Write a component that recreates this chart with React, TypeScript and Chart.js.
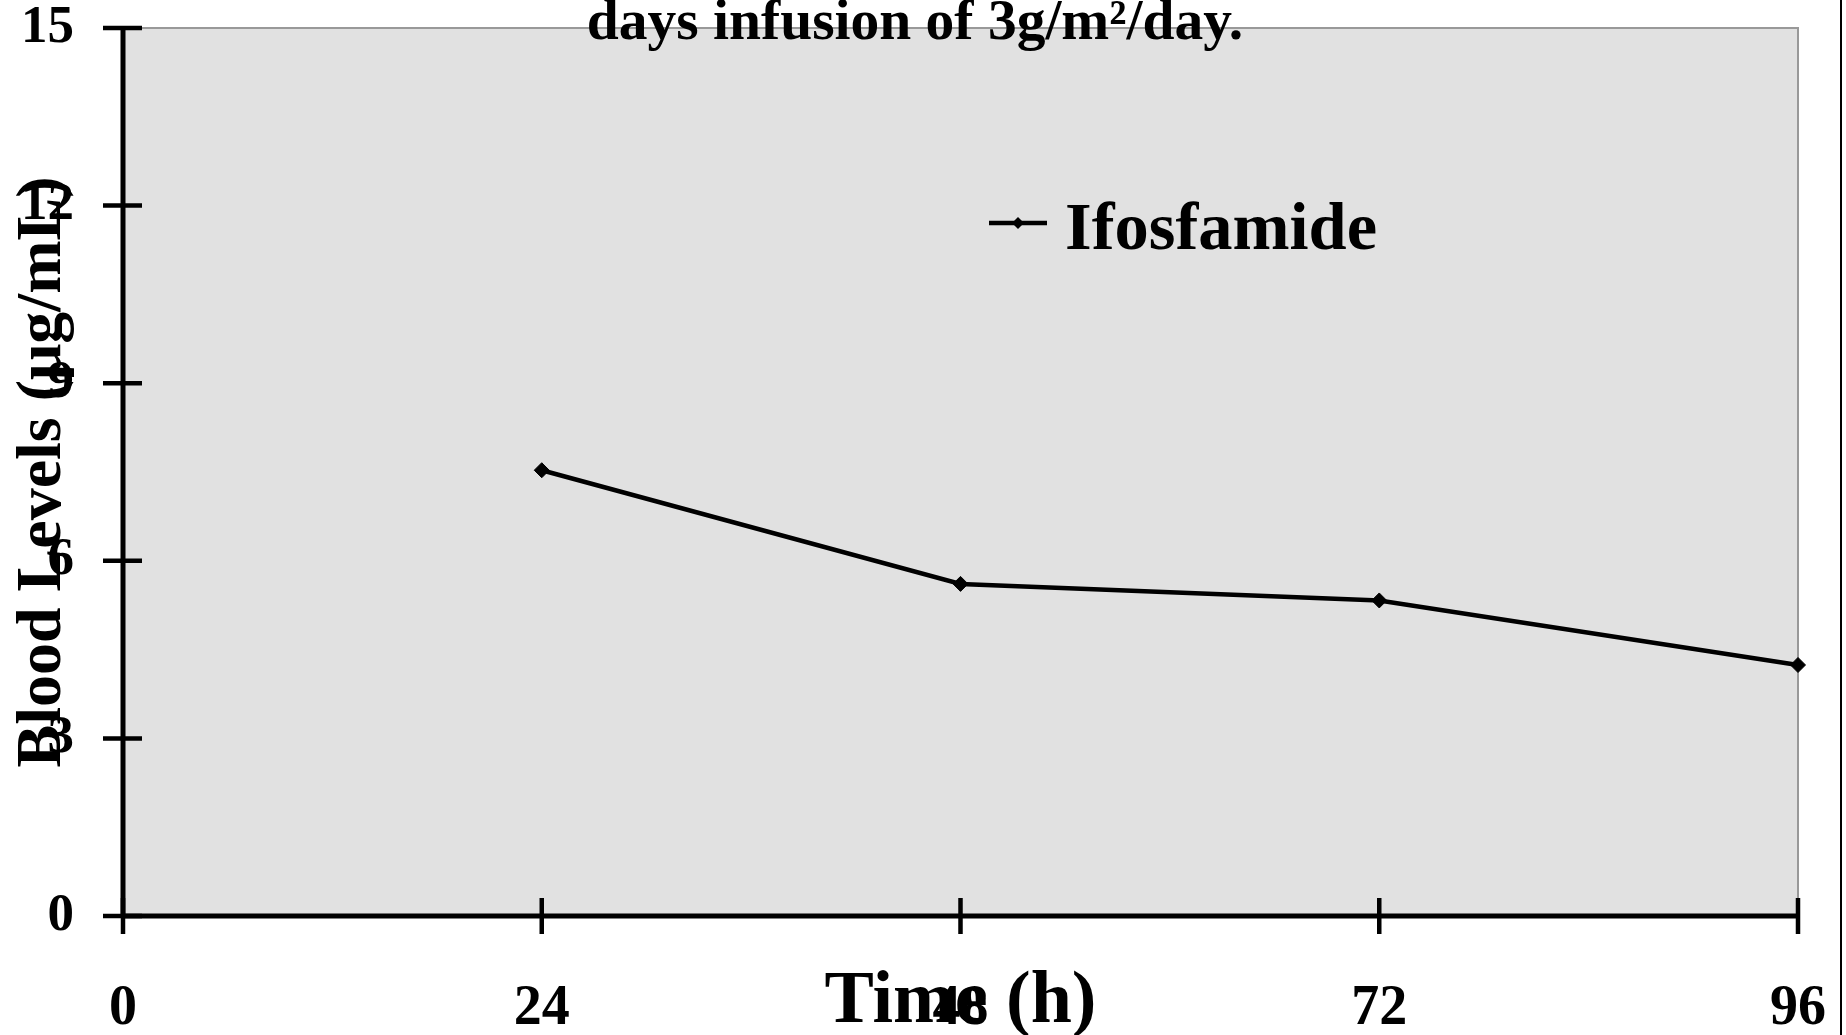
import React, { useEffect, useRef } from "react";
import { Chart, registerables } from "chart.js";

Chart.register(...registerables);

// ---- Data ----
const timeHours = [24, 48, 72, 96];
const ifosfamideLevels = [7.53, 5.61, 5.33, 4.24];
const seriesLabel = "Ifosfamide";
const xTickValues = [0, 24, 48, 72, 96];
const yTickValues = [0, 3, 6, 9, 12, 15];
const titleText = "days infusion of 3g/m\u00B2/day.";
const xAxisTitle = "Time (h)";
const yAxisTitle = "Blood Levels (\u03BCg/mL)";

const FONT = "'Liberation Serif', 'Times New Roman', serif";

const decorPlugin = {
  id: "decor",
  beforeDraw(chart: any) {
    const { ctx, chartArea: a } = chart;
    ctx.save();
    ctx.fillStyle = "#ffffff";
    ctx.fillRect(0, 0, chart.width, chart.height);
    ctx.fillStyle = "#e1e1e1";
    ctx.fillRect(a.left, a.top, a.right - a.left, a.bottom - a.top);
    ctx.strokeStyle = "#999999";
    ctx.lineWidth = 2;
    ctx.beginPath();
    ctx.moveTo(a.left, a.top);
    ctx.lineTo(a.right, a.top);
    ctx.lineTo(a.right, a.bottom);
    ctx.stroke();
    ctx.restore();
  },
  beforeDatasetsDraw(chart: any) {
    const { ctx, chartArea: a, scales } = chart;
    ctx.save();
    ctx.strokeStyle = "#000000";
    ctx.lineWidth = 5;
    ctx.lineCap = "butt";
    ctx.beginPath();
    ctx.moveTo(a.left, a.top - 2);
    ctx.lineTo(a.left, a.bottom + 2);
    ctx.moveTo(a.left - 2, a.bottom);
    ctx.lineTo(a.right + 2, a.bottom);
    ctx.stroke();
    ctx.lineWidth = 4.5;
    ctx.beginPath();
    for (const v of yTickValues) {
      const y = scales.y.getPixelForValue(v);
      ctx.moveTo(a.left - 20, y);
      ctx.lineTo(a.left + 19, y);
    }
    for (const v of xTickValues) {
      const x = scales.x.getPixelForValue(v);
      ctx.moveTo(x, a.bottom - 18);
      ctx.lineTo(x, a.bottom + 18);
    }
    ctx.stroke();
    ctx.restore();
  },
  afterDraw(chart: any) {
    const { ctx } = chart;
    ctx.save();
    // title (last visible line)
    ctx.fillStyle = "#000000";
    ctx.font = `bold 57.5px ${FONT}`;
    ctx.textAlign = "center";
    ctx.textBaseline = "alphabetic";
    ctx.fillText(titleText, 915, 38.5);
    // legend
    ctx.strokeStyle = "#000000";
    ctx.lineWidth = 4.5;
    ctx.beginPath();
    ctx.moveTo(989, 223);
    ctx.lineTo(1047, 223);
    ctx.stroke();
    ctx.beginPath();
    ctx.moveTo(1018, 217);
    ctx.lineTo(1024, 223);
    ctx.lineTo(1018, 229);
    ctx.lineTo(1012, 223);
    ctx.closePath();
    ctx.fill();
    ctx.font = `bold 68.5px ${FONT}`;
    ctx.textAlign = "left";
    ctx.fillText(seriesLabel, 1065, 249);
    // right frame line
    ctx.lineWidth = 2;
    ctx.beginPath();
    ctx.moveTo(1841, 0);
    ctx.lineTo(1841, chart.height);
    ctx.stroke();
    ctx.restore();
  },
};

export default function App() {
  const ref = useRef<HTMLCanvasElement | null>(null);
  useEffect(() => {
    document.body.style.margin = "0";
    const canvas = ref.current!;
    const chart = new Chart(canvas, {
      type: "line",
      data: {
        datasets: [
          {
            label: seriesLabel,
            data: timeHours.map((t, i) => ({ x: t, y: ifosfamideLevels[i] })),
            borderColor: "#000000",
            backgroundColor: "#000000",
            borderWidth: 4.5,
            pointStyle: "rectRot",
            pointRadius: 7.5,
            pointBorderWidth: 1,
            tension: 0,
            clip: false as any,
          },
        ],
      },
      options: {
        animation: false,
        responsive: false,
        devicePixelRatio: 1,
        layout: { padding: { top: 28, right: 48, bottom: 0, left: 0 } },
        plugins: {
          legend: { display: false },
          title: { display: false },
          tooltip: { enabled: false },
        },
        scales: {
          x: {
            type: "linear",
            min: 0,
            max: 96,
            afterBuildTicks: (s: any) => {
              s.ticks = xTickValues.map((v) => ({ value: v }));
            },
            grid: { display: false },
            border: { display: false },
            ticks: {
              color: "#000000",
              padding: 58,
              maxRotation: 0,
              autoSkip: false,
              font: { family: FONT, size: 56, weight: "bold", lineHeight: 1 },
            },
            title: {
              display: true,
              text: xAxisTitle,
              color: "#000000",
              padding: { top: 0, bottom: -5 },
              font: { family: FONT, size: 74, weight: "bold", lineHeight: 1 },
            },
            afterFit: (s: any) => {
              s.height = 119;
              s.paddingLeft = 0;
              s.paddingRight = 0;
              s.paddingTop = 0;
              s.paddingBottom = 0;
            },
          },
          y: {
            type: "linear",
            min: 0,
            max: 15,
            afterBuildTicks: (s: any) => {
              s.ticks = yTickValues.map((v) => ({ value: v }));
            },
            grid: { display: false },
            border: { display: false },
            ticks: {
              color: "#000000",
              padding: 41,
              autoSkip: false,
              font: { family: FONT, size: 53, weight: "bold", lineHeight: 1 },
            },
            title: {
              display: true,
              text: yAxisTitle,
              color: "#000000",
              padding: { top: 11, bottom: 0 },
              font: { family: FONT, size: 64, weight: "bold", lineHeight: 1 },
            },
            afterFit: (s: any) => {
              s.width = 123;
              s.paddingLeft = 0;
              s.paddingRight = 0;
              s.paddingTop = 0;
              s.paddingBottom = 0;
            },
          },
        },
      },
      plugins: [decorPlugin],
    });
    return () => chart.destroy();
  }, []);
  return (
    <div style={{ width: 1846, height: 1035 }}>
      <canvas ref={ref} width={1846} height={1035} style={{ display: "block" }} />
    </div>
  );
}
